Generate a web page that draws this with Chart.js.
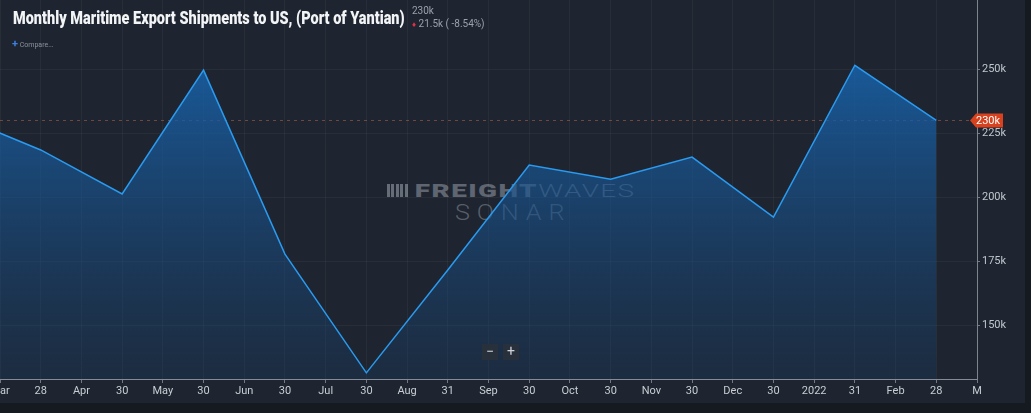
<!DOCTYPE html>
<html>
<head>
<meta charset="utf-8">
<script src="https://cdn.jsdelivr.net/npm/chart.js@4/dist/chart.umd.min.js"></script>
<style>
  html, body { margin: 0; padding: 0; background: #151a21; width: 1031px; height: 413px; overflow: hidden; }
  #wrap { position: absolute; left: 0; top: 0; width: 1025px; height: 403px; background: #1e2530; font-family: Roboto, sans-serif; }
  #chart { position: absolute; left: 0; top: 0; z-index: 2; }
  .ov { position: absolute; white-space: nowrap; }
  #title { left: 13px; top: 6px; font-size: 19px; font-weight: 900; color: #f2f4f6; transform-origin: left top; z-index: 3; }
  #last { left: 412px; top: 5px; font-size: 10px; color: #9aa1ab; z-index: 3; }
  #chg { left: 412px; top: 18px; font-size: 10px; color: #9aa1ab; z-index: 3; }
  #chg b { color: #e0304a; font-size: 8px; }
  #cmp { left: 12px; top: 37px; font-size: 7px; color: #8a929c; z-index: 3; }
  #cmp b { color: #3d7fe0; font-size: 11px; }
  #wm1 { left: 387px; top: 179px; font-size: 19px; color: rgba(160,168,178,0.5); letter-spacing: 1px; transform-origin: left top; z-index: 1; }
  #wm1 .fr { font-weight: 900; }
  #wm1 .wv { font-weight: 300; }
  #wm1 .ic { display: inline-block; width: 15px; height: 13px; margin-right: 4px; vertical-align: 0px;
    background: repeating-linear-gradient(90deg, rgba(160,168,178,0.55) 0 2px, transparent 2px 3px); }
  #wm2 { left: 455px; top: 200px; font-size: 22px; font-weight: 300; letter-spacing: 6px; color: rgba(160,168,178,0.45); transform-origin: left top; z-index: 1; }
  .zb { position: absolute; top: 344px; width: 16px; height: 16px; background: #28303b; color: #d0d4da; font-size: 14px; line-height: 15px; text-align: center; z-index: 3; }
</style>
</head>
<body>
<div id="wrap">
  <div class="ov" id="wm1"><span class="ic"></span><span class="fr">FREIGHT</span><span class="wv">WAVES</span></div>
  <div class="ov" id="wm2">SONAR</div>
  <canvas id="chart" width="1025" height="403"></canvas>
  <div class="ov" id="title">Monthly Maritime Export Shipments to US, (Port of Yantian)</div>
  <div class="ov" id="last">230k</div>
  <div class="ov" id="chg"><b>&#9830;</b> 21.5k ( -8.54%)</div>
  <div class="ov" id="cmp"><b>+</b> Compare...</div>
  <div class="zb" style="left:482px">&minus;</div>
  <div class="zb" style="left:503px">+</div>
</div>
<script>
/* axis labels, one per half month slot */
const xLabels = ['Mar', '28', 'Apr', '30', 'May', '30', 'Jun', '30', 'Jul', '30', 'Aug', '31', 'Sep',
  '30', 'Oct', '30', 'Nov', '30', 'Dec', '30', '2022', '31', 'Feb', '28', 'M'];
/* month-end points, position on the label slots */
const pointSlot = [-1, 1, 3, 5, 7, 9, 11, 13, 15, 17, 19, 21, 23];
const shipments = [231600, 218400, 201200, 249600, 177700, 131300, 171500, 212500, 207000, 215600, 192200, 251500, 230000];
const yTicks = [150000, 175000, 200000, 225000, 250000];
const lastValue = 230000;

const fmtK = (v) => Math.round(v / 1000) + 'k';

function fitWidth(id, w) {
  const el = document.getElementById(id);
  el.style.transform = 'scaleX(' + (w / el.scrollWidth) + ')';
}
fitWidth('title', 392);
fitWidth('wm1', 249);
fitWidth('wm2', 117);

/* dashed line at last value (under the area) + red price badge */
const lastMarker = {
  id: 'lastMarker',
  beforeDatasetsDraw(chart) {
    const { ctx, chartArea, scales } = chart;
    const y = Math.round(scales.y.getPixelForValue(lastValue)) + 0.5;
    ctx.save();
    ctx.strokeStyle = 'rgba(165,95,75,0.6)';
    ctx.lineWidth = 1;
    ctx.setLineDash([3, 4]);
    ctx.beginPath();
    ctx.moveTo(chartArea.left, y);
    ctx.lineTo(chartArea.right - 6, y);
    ctx.stroke();
    ctx.restore();
  },
  afterDraw(chart) {
    const { ctx, chartArea, scales } = chart;
    const y = Math.round(scales.y.getPixelForValue(lastValue)) + 0.5;
    const x0 = chartArea.right - 7;
    ctx.save();
    ctx.fillStyle = '#d8421e';
    ctx.beginPath();
    ctx.moveTo(x0, y);
    ctx.lineTo(x0 + 6, y - 7);
    ctx.lineTo(x0 + 33, y - 7);
    ctx.lineTo(x0 + 33, y + 7);
    ctx.lineTo(x0 + 6, y + 7);
    ctx.closePath();
    ctx.fill();
    ctx.fillStyle = '#ffffff';
    ctx.font = '11px Roboto';
    ctx.textBaseline = 'middle';
    ctx.fillText(fmtK(lastValue), x0 + 6, y + 0.5);
    ctx.restore();
  },
};

new Chart(document.getElementById('chart'), {
  type: 'line',
  data: {
    datasets: [{
      data: pointSlot.map((s, i) => ({ x: s, y: shipments[i] })),
      borderColor: '#2a9bf0',
      borderWidth: 1.5,
      pointRadius: 0,
      tension: 0,
      fill: 'start',
      backgroundColor: (c) => {
        const a = c.chart.chartArea;
        if (!a) return 'rgba(25,90,150,0.6)';
        const g = c.chart.ctx.createLinearGradient(0, a.top + 60, 0, a.bottom);
        g.addColorStop(0, 'rgba(24,98,170,0.88)');
        g.addColorStop(1, 'rgba(26,62,104,0.3)');
        return g;
      },
    }],
  },
  options: {
    responsive: false,
    animation: false,
    layout: { padding: 0 },
    plugins: { legend: { display: false }, tooltip: { enabled: false }, title: { display: false } },
    scales: {
      x: {
        type: 'linear',
        min: 0,
        max: xLabels.length - 1,
        afterBuildTicks: (s) => { s.ticks = xLabels.map((_, i) => ({ value: i })); },
        afterFit: (s) => { s.height = 24; s.paddingLeft = 0; s.paddingRight = 0; },
        ticks: {
          autoSkip: false, maxRotation: 0, padding: 2,
          color: '#c9cdd3', font: { family: 'Roboto', size: 11 },
          callback: (v) => xLabels[v],
        },
        grid: { color: 'rgba(255,255,255,0.045)', tickColor: 'rgba(200,205,212,0.5)', tickLength: 4 },
        border: { color: '#858c96' },
      },
      y: {
        position: 'right',
        min: 128900,
        max: 277000,
        afterBuildTicks: (s) => { s.ticks = yTicks.map((v) => ({ value: v })); },
        afterFit: (s) => { s.width = 48; s.paddingTop = 0; s.paddingBottom = 0; },
        ticks: { padding: 2, color: '#c1c6cd', font: { family: 'Roboto', size: 11 }, callback: (v) => fmtK(v) },
        grid: { color: 'rgba(255,255,255,0.045)', tickColor: 'rgba(200,205,212,0.5)', tickLength: 3 },
        border: { color: '#7d848e' },
      },
    },
  },
  plugins: [lastMarker],
});
</script>
</body>
</html>
